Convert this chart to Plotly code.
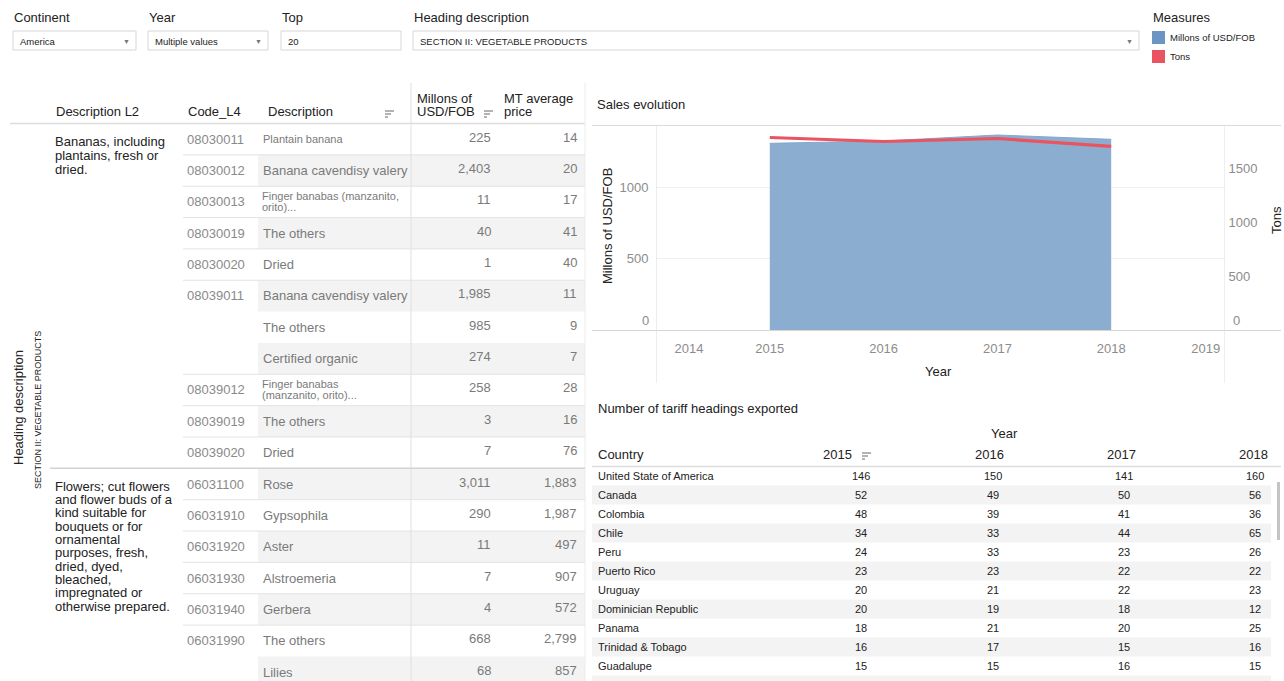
import plotly.graph_objects as go

# ---------------- data ----------------
years = [2015, 2016, 2017, 2018]
usd_fob = [1306, 1322, 1364, 1334]
tons = [1784, 1747, 1775, 1701]

x_tick_labels = ["2014", "2015", "2016", "2017", "2018", "2019"]

l2_bananas = ["Bananas, including", "plantains, fresh or", "dried."]
l2_flowers = ["Flowers; cut flowers", "and flower buds of a", "kind suitable for",
              "bouquets or for", "ornamental", "purposes, fresh,", "dried, dyed,",
              "bleached,", "impregnated or", "otherwise prepared."]

codes = ["08030011", "08030012", "08030013", "08030019", "08030020", "08039011", "", "",
         "08039012", "08039019", "08039020", "06031100", "06031910", "06031920",
         "06031930", "06031940", "06031990", ""]
descriptions = ["Plantain banana", "Banana cavendisy valery", "Finger banabas (manzanito, orito)...",
                "The others", "Dried", "Banana cavendisy valery", "The others", "Certified organic",
                "Finger banabas (manzanito, orito)...", "The others", "Dried", "Rose", "Gypsophila",
                "Aster", "Alstroemeria", "Gerbera", "The others", "Lilies"]
millons_usd_fob = [225, 2403, 11, 40, 1, 1985, 985, 274, 258, 3, 7, 3011, 290, 11, 7, 4, 668, 68]
mt_average_price = [14, 20, 17, 41, 40, 11, 9, 7, 28, 16, 76, 1883, 1987, 497, 907, 572, 2799, 857]

countries = ["United State of America", "Canada", "Colombia", "Chile", "Peru", "Puerto Rico",
             "Uruguay", "Dominician Republic", "Panama", "Trinidad & Tobago", "Guadalupe"]
h2015 = [146, 52, 48, 34, 24, 23, 20, 20, 18, 16, 15]
h2016 = [150, 49, 39, 33, 33, 23, 21, 19, 21, 17, 15]
h2017 = [141, 50, 41, 44, 23, 22, 22, 18, 20, 15, 16]
h2018 = [160, 56, 36, 65, 26, 22, 23, 12, 25, 16, 15]
table_years = ["2015", "2016", "2017", "2018"]

filters = [("Continent", "America"), ("Year", "Multiple values"), ("Top", "20"),
           ("Heading description", "SECTION II: VEGETABLE PRODUCTS")]
measures = ["Millons of USD/FOB", "Tons"]

# ---------------- helpers ----------------
W, H = 1284, 681
FONT = "Liberation Sans, Arial, sans-serif"
BLUE_LEG = "#6b95c2"
RED = "#ea5461"
AREA = "#8badcf"

ann = []
shp = []


def px(x):
    return x / W


def py(y):
    return 1 - y / H


def text(x, y, s, size=13, color="#222", xanchor="left", yanchor="middle", angle=0):
    ann.append(dict(x=px(x), y=py(y), xref="paper", yref="paper", text=s, showarrow=False,
                    font=dict(size=size, color=color, family=FONT), xanchor=xanchor,
                    yanchor=yanchor, textangle=angle, borderpad=0))


def rect(x0, y0, x1, y1, fill, line=None, lw=1):
    shp.append(dict(type="rect", xref="paper", yref="paper", x0=px(x0), x1=px(x1),
                    y0=py(y0), y1=py(y1), fillcolor=fill,
                    line=dict(color=line if line else "rgba(0,0,0,0)", width=lw if line else 0),
                    layer="below"))


def hline(x0, x1, y, color="#e2e2e2", w=1):
    shp.append(dict(type="line", xref="paper", yref="paper", x0=px(x0), x1=px(x1),
                    y0=py(y), y1=py(y), line=dict(color=color, width=w)))


def vline(x, y0, y1, color="#e2e2e2", w=1):
    shp.append(dict(type="line", xref="paper", yref="paper", x0=px(x), x1=px(x),
                    y0=py(y0), y1=py(y1), line=dict(color=color, width=w)))


def sort_icon(x, y):
    for i, wd in enumerate([9, 6, 3]):
        hline(x, x + wd, y + i * 3, color="#9a9a9a", w=1.5)


# ---------------- filter bar ----------------
filter_x = [13, 148, 281, 413]
filter_w = [123, 120, 120, 726]
for (lab, val), fx, fw in zip(filters, filter_x, filter_w):
    text(fx, 18, lab, size=13, color="#222")
    rect(fx, 31, fx + fw, 50, "#ffffff", line="#d6d6d6")
    text(fx + 6, 41, val, size=9.5, color="#222")
    if lab != "Top":
        text(fx + fw - 10, 41, "▼", size=7, color="#777", xanchor="center")

text(1152, 18, "Measures", size=13, color="#222")
for i, (m, c) in enumerate(zip(measures, [BLUE_LEG, RED])):
    y0 = 31 + i * 19
    rect(1152, y0, 1165, y0 + 13, c)
    text(1169, y0 + 6.5, m, size=9.5, color="#222")

# ---------------- left table ----------------
ROW0, RH = 123.5, 31.35
n = len(codes)

for i in range(n):
    if i % 2 == 1:
        rect(258, ROW0 + i * RH, 585, ROW0 + (i + 1) * RH, "#f3f3f3")

text(55, 112, "Description L2")
text(187, 112, "Code_L4")
text(267, 112, "Description")
sort_icon(385, 111)
text(416, 98, "Millons of")
text(416, 112, "USD/FOB")
sort_icon(484, 111)
text(503, 98, "MT average")
text(503, 112, "price")
hline(10, 585, 123.5, color="#dcdcdc", w=1.5)

vline(411, 83, 681, color="#e0e0e0")
vline(585, 83, 681, color="#ececec")

text(18, 408, "Heading description", size=13, color="#222", xanchor="center", angle=-90)
text(38, 410, "SECTION II: VEGETABLE PRODUCTS", size=9, color="#222", xanchor="center", angle=-90)

for k, ln in enumerate(l2_bananas):
    text(54, 141 + k * 14.2, ln, size=13, color="#222")
for k, ln in enumerate(l2_flowers):
    text(54, 486 + k * 13.35, ln, size=13, color="#222")

small_rows = {0, 2, 8}
wraps = {2: ["Finger banabas (manzanito,", "orito)..."],
         8: ["Finger banabas", "(manzanito, orito)..."]}

for i in range(n):
    yc = ROW0 + (i + 0.5) * RH
    if codes[i]:
        text(186, yc, codes[i], size=13, color="#8a8a8a")
        if i > 0:
            x_start = 50 if i == 11 else 183
            hline(x_start, 585, ROW0 + i * RH,
                  color="#d2d2d2" if i == 11 else "#e3e3e3", w=1.5 if i == 11 else 1)
    if i in wraps:
        for k, ln in enumerate(wraps[i]):
            text(261, yc - 5.5 + k * 11, ln, size=11, color="#7a7a7a")
    else:
        text(262, yc, descriptions[i], size=11 if i in small_rows else 13, color="#7a7a7a")
    text(492, yc - 2, f"{millons_usd_fob[i]:,}", size=13, color="#7a7a7a", xanchor="right")
    text(578, yc - 2, f"{mt_average_price[i]:,}", size=13, color="#7a7a7a", xanchor="right")

# ---------------- sales evolution chart ----------------
text(596, 105, "Sales evolution", size=13, color="#222")
hline(592, 1281, 125.5, color="#dadada")
hline(592, 1281, 330.5, color="#d6d6d6")
text(607, 226, "Millons of USD/FOB", size=13, color="#222", xanchor="center", angle=-90)
text(1276, 220, "Tons", size=13, color="#222", xanchor="center", angle=-90)
text(938, 371, "Year", size=13, color="#222", xanchor="center")
# zero labels sit just above the baseline, as in the original
text(650, 320, "0", size=13, color="#8c8c8c", xanchor="right")
text(1232, 320, "0", size=13, color="#8c8c8c", xanchor="left")

# ---------------- tariff table ----------------
text(597, 408, "Number of tariff headings exported", size=13, color="#222")
text(1004, 434, "Year", size=13, color="#222", xanchor="center")
text(597, 454, "Country", size=13, color="#222")
hdr_right = [853, 1005, 1137, 1269]
for yr, xr in zip(table_years, hdr_right):
    text(xr, 454, yr, size=13, color="#222", xanchor="right")
sort_icon(862, 453)
hline(592, 1281, 466.5, color="#dcdcdc", w=1.5)

T0, TRH = 466.5, 19.0
col_c = [861, 993, 1124, 1255]
for i, c in enumerate(countries):
    if i % 2 == 1:
        rect(592, T0 + i * TRH, 1271, T0 + (i + 1) * TRH, "#f3f3f3")
    yc = T0 + (i + 0.5) * TRH
    text(597, yc, c, size=11, color="#222")
    for xc, col in zip(col_c, [h2015, h2016, h2017, h2018]):
        text(xc, yc, str(col[i]), size=11, color="#222", xanchor="center")
rect(592, T0 + len(countries) * TRH, 1271, T0 + (len(countries) + 1) * TRH, "#f3f3f3")
rect(1277, 482, 1280, 540, "#c4c4c4")

# ---------------- figure ----------------
fig = go.Figure()
fig.add_trace(go.Scatter(x=years, y=usd_fob, mode="lines", fill="tozeroy",
                         fillcolor=AREA, line=dict(color="#86a9cc", width=1),
                         name=measures[0], yaxis="y"))
fig.add_trace(go.Scatter(x=years, y=tons, mode="lines", line=dict(color=RED, width=3.2),
                         name=measures[1], yaxis="y2"))

for xv in (2014, 2019):
    shp.append(dict(type="line", xref="x", yref="paper", x0=xv, x1=xv, y0=py(383), y1=py(125),
                    line=dict(color="#dcdcdc", width=1)))

fig.update_layout(
    width=W, height=H, autosize=False,
    margin=dict(l=0, r=0, t=0, b=0),
    paper_bgcolor="white", plot_bgcolor="white",
    showlegend=False,
    font=dict(family=FONT),
    xaxis=dict(domain=[656 / W, 1225 / W], range=[2014, 2019],
               tickvals=[2014.29, 2015, 2016, 2017, 2018, 2018.83], ticktext=x_tick_labels,
               showgrid=False, zeroline=False, showline=False,
               ticks="outside", ticklen=6, tickcolor="rgba(0,0,0,0)",
               tickfont=dict(size=13, color="#8c8c8c")),
    yaxis=dict(domain=[1 - 330 / H, 1 - 125 / H], range=[0, 1434],
               tickvals=[500, 1000], showgrid=True, gridcolor="#efefef",
               zeroline=False, showline=False, ticks="outside", ticklen=4,
               tickcolor="rgba(0,0,0,0)", tickfont=dict(size=13, color="#8c8c8c")),
    yaxis2=dict(overlaying="y", side="right", anchor="x", range=[0, 1900],
                tickvals=[500, 1000, 1500], showgrid=False, zeroline=False,
                showline=False, ticks="outside", ticklen=0, tickcolor="rgba(0,0,0,0)",
                tickfont=dict(size=13, color="#8c8c8c")),
    annotations=ann,
    shapes=shp,
)

fig.write_html("out.html")
